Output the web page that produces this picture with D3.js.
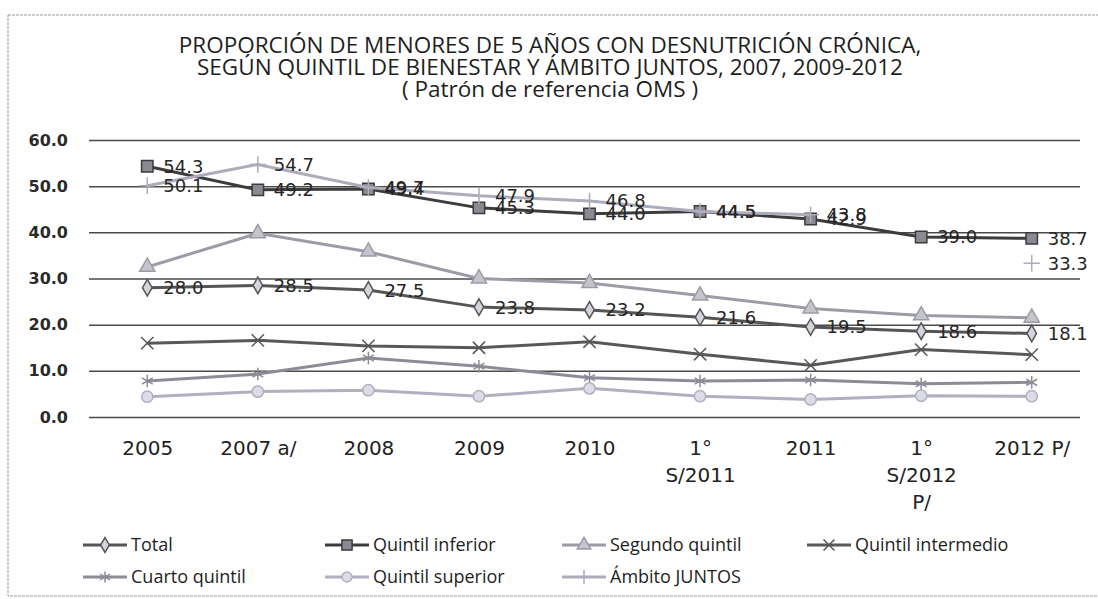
<!DOCTYPE html>
<meta charset="utf-8">
<style>
body { margin: 0; background: #fff; }
svg { display: block; }
.axis .domain { display: none; }
</style>
<svg width="1098" height="599"></svg>
<script src="https://d3js.org/d3.v7.min.js"></script>
<script>
// categories on the x axis (label lines kept separately)
var categories = ["2005", "2007 a/", "2008", "2009", "2010", "1° S/2011", "2011", "1° S/2012 P/", "2012 P/"];
var tickLabels = [["2005"], ["2007 a/"], ["2008"], ["2009"], ["2010"], ["1°", "S/2011"], ["2011"], ["1°", "S/2012", "P/"], ["2012  P/"]];
var yTicks = [0, 10, 20, 30, 40, 50, 60];

// series values
var total             = [28.0, 28.5, 27.5, 23.8, 23.2, 21.6, 19.5, 18.6, 18.1];
var quintilInferior   = [54.3, 49.2, 49.4, 45.3, 44.0, 44.5, 42.9, 39.0, 38.7];
var segundoQuintil    = [32.5, 39.8, 35.8, 30.0, 29.0, 26.3, 23.5, 22.0, 21.5];
var quintilIntermedio = [16.0, 16.6, 15.4, 15.0, 16.3, 13.6, 11.2, 14.6, 13.5];
var cuartoQuintil     = [7.8, 9.3, 12.8, 11.0, 8.5, 7.8, 8.0, 7.2, 7.5];
var quintilSuperior   = [4.4, 5.5, 5.8, 4.5, 6.2, 4.5, 3.8, 4.6, 4.5];
var ambitoJuntos      = [50.1, 54.7, 49.7, 47.9, 46.8, 44.5, 43.8, null, 33.3];

var titleLines = [
  "PROPORCIÓN DE MENORES DE 5 AÑOS CON DESNUTRICIÓN CRÓNICA,",
  "SEGÚN QUINTIL DE BIENESTAR Y ÁMBITO JUNTOS, 2007, 2009-2012",
  "( Patrón de referencia OMS )"
];

var series = [
  {name: "Total", values: total, color: "#555", symbol: d3.symbolDiamond, size: 80, fill: "#d4d4dc", labels: true},
  {name: "Quintil inferior", values: quintilInferior, color: "#3c3c3c", symbol: d3.symbolSquare, size: 130, fill: "#8a8a92", labels: true},
  {name: "Segundo quintil", values: segundoQuintil, color: "#9c9ca8", symbol: d3.symbolTriangle, size: 100, fill: "#c4c4cc", labels: false},
  {name: "Quintil intermedio", values: quintilIntermedio, color: "#585858", symbol: d3.symbolX, size: 100, fill: "none", labels: false},
  {name: "Cuarto quintil", values: cuartoQuintil, color: "#8c8c98", symbol: d3.symbolAsterisk, size: 110, fill: "none", labels: false},
  {name: "Quintil superior", values: quintilSuperior, color: "#b0b0c0", symbol: d3.symbolCircle, size: 100, fill: "#dcdce6", labels: false},
  {name: "Ámbito JUNTOS", values: ambitoJuntos, color: "#acacba", symbol: d3.symbolPlus, size: 90, fill: "none", labels: true}
];

var svg = d3.select("svg");

// frame
svg.append("rect")
    .attr("x", 8).attr("y", 15)
    .attr("width", 1100).attr("height", 581)
    .attr("fill", "none")
    .attr("stroke", "#9a9a9a")
    .attr("stroke-dasharray", "3,1");

// title
svg.append("g").selectAll("text")
  .data(titleLines)
  .enter().append("text")
    .attr("x", 550)
    .attr("y", function(d, i) { return 53 + i * 22; })
    .attr("text-anchor", "middle")
    .attr("font-family", "'Open Sans', sans-serif")
    .attr("font-size", 22.5)
    .attr("fill", "#1e1e1e")
    .text(function(d) { return d; });

var x = d3.scalePoint()
    .domain(categories)
    .range([92, 1087])
    .padding(0.5);

var y = d3.scaleLinear()
    .domain([0, 60])
    .range([417, 140]);

// y axis with gridlines
svg.append("g")
    .attr("class", "axis")
    .attr("transform", "translate(89,0)")
    .call(d3.axisLeft(y).tickValues(yTicks).tickFormat(d3.format(".1f")).tickSize(-991).tickPadding(21))
    .call(function(g) {
      g.selectAll(".tick line").attr("stroke", "#4a4a4a").attr("stroke-width", 1.5);
      g.selectAll(".tick text")
        .attr("font-family", "'DejaVu Sans', sans-serif")
        .attr("font-size", 16)
        .attr("font-weight", "bold")
        .attr("fill", "#2a2a2a");
    });

// x axis labels
var xAxis = svg.append("g")
    .attr("class", "axis")
    .attr("transform", "translate(0,417)")
    .call(d3.axisBottom(x).tickSize(0).tickFormat(""));

xAxis.selectAll(".tick").append("text")
    .attr("font-family", "'DejaVu Sans', sans-serif")
    .attr("font-size", 20)
    .attr("fill", "#222")
    .attr("text-anchor", "middle")
    .each(function(d, i) {
      var t = d3.select(this);
      tickLabels[i].forEach(function(line, j) {
        t.append("tspan").attr("x", 0).attr("y", 38 + j * 27).text(line);
      });
    });

var line = d3.line()
    .defined(function(d) { return d != null; })
    .x(function(d, i) { return x(categories[i]); })
    .y(function(d) { return y(d); });

var plot = svg.append("g");

series.forEach(function(s) {
  var g = plot.append("g");
  g.append("path")
      .datum(s.values)
      .attr("fill", "none")
      .attr("stroke", s.color)
      .attr("stroke-width", 3)
      .attr("d", line);

  g.selectAll("path.mark")
    .data(s.values.map(function(v, i) { return {v: v, c: categories[i]}; }).filter(function(d) { return d.v != null; }))
    .enter().append("path")
      .attr("class", "mark")
      .attr("transform", function(d) { return "translate(" + x(d.c) + "," + y(d.v) + ")"; })
      .attr("d", d3.symbol().type(s.symbol).size(s.size))
      .attr("fill", s.fill)
      .attr("stroke", s.color)
      .attr("stroke-width", 1.5);
});

// data labels
series.filter(function(s) { return s.labels; }).forEach(function(s) {
  plot.append("g").selectAll("text")
    .data(s.values.map(function(v, i) { return {v: v, c: categories[i]}; }).filter(function(d) { return d.v != null; }))
    .enter().append("text")
      .attr("x", function(d) { return x(d.c) + 16; })
      .attr("y", function(d) { return y(d.v); })
      .attr("dy", "0.36em")
      .attr("font-family", "'DejaVu Sans', sans-serif")
      .attr("font-size", 18)
      .attr("fill", "#262626")
      .text(function(d) { return d3.format(".1f")(d.v); });
});

// legend
var legendPos = [[83, 545], [325, 545], [562, 545], [807, 545], [83, 577], [325, 577], [562, 577]];

var legend = svg.append("g").selectAll("g")
  .data(series)
  .enter().append("g")
    .attr("transform", function(d, i) { return "translate(" + legendPos[i][0] + "," + legendPos[i][1] + ")"; });

legend.append("line")
    .attr("x1", 0).attr("x2", 44)
    .attr("stroke", function(d) { return d.color; })
    .attr("stroke-width", 3);

legend.append("path")
    .attr("transform", "translate(22,0)")
    .attr("d", function(d) { return d3.symbol().type(d.symbol).size(d.size * 0.8)(); })
    .attr("fill", function(d) { return d.fill; })
    .attr("stroke", function(d) { return d.color; })
    .attr("stroke-width", 1.5);

legend.append("text")
    .attr("x", 48)
    .attr("dy", "0.35em")
    .attr("font-family", "'Open Sans', sans-serif")
    .attr("font-size", 18)
    .attr("fill", "#1e1e1e")
    .text(function(d) { return d.name; });
</script>
